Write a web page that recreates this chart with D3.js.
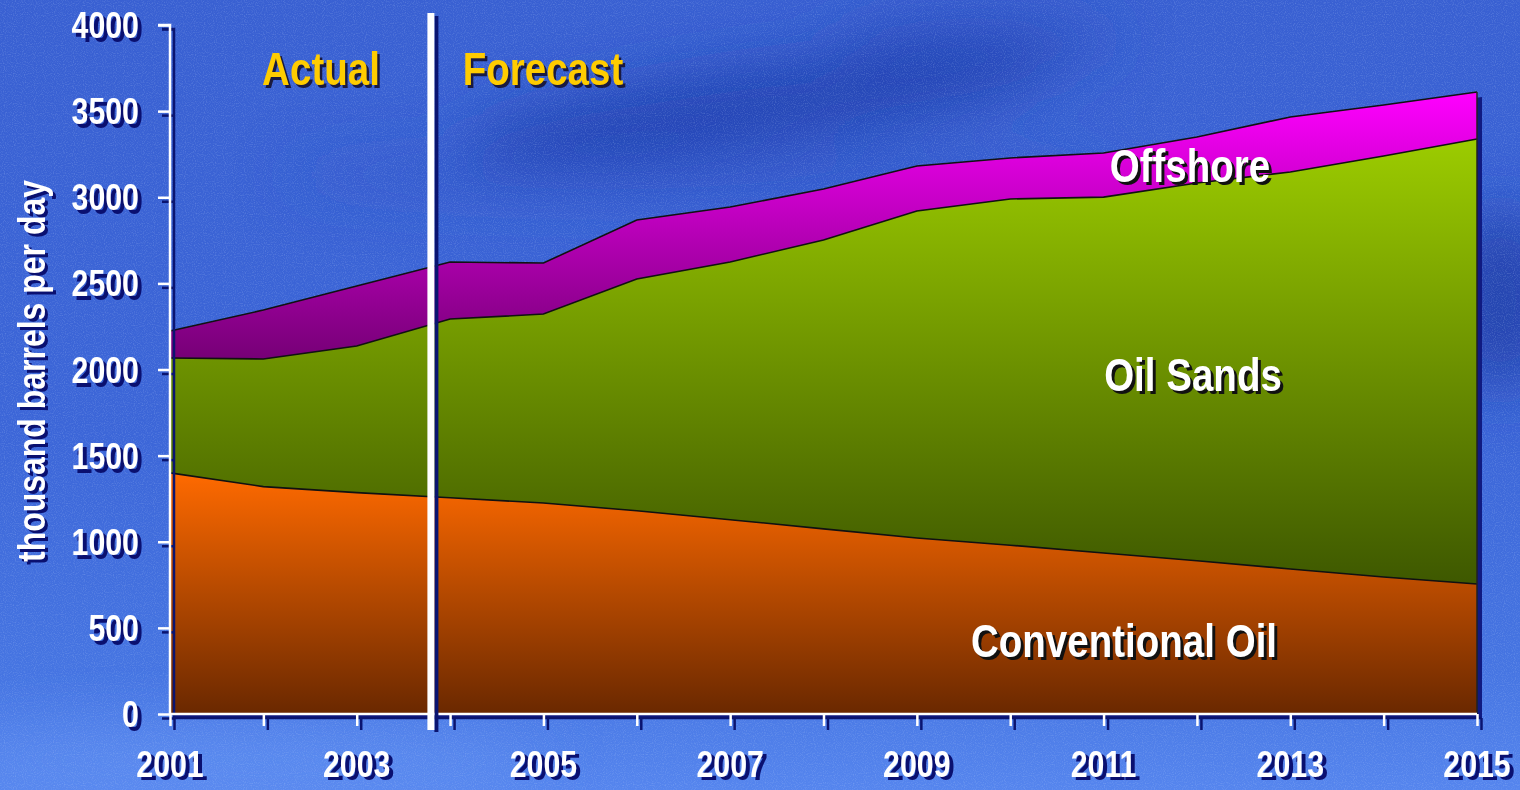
<!DOCTYPE html>
<html>
<head>
<meta charset="utf-8">
<script src="https://cdn.jsdelivr.net/npm/d3@7/dist/d3.min.js"></script>
<style>
html,body{margin:0;padding:0;background:#3a62d4;overflow:hidden;}
svg{display:block;}
text{font-family:"Liberation Sans",Arial,sans-serif;font-weight:bold;}
</style>
</head>
<body>
<svg id="chart" width="1520" height="790"></svg>
<script>
// ---- data ----
const years = [2001,2002,2003,2004,2005,2006,2007,2008,2009,2010,2011,2012,2013,2014,2015];
const conventionalOil = [1400,1320,1285,1255,1225,1180,1128,1075,1022,980,935,890,842,795,755];
const oilSands = [667,741,851,1038,1097,1345,1496,1677,1898,2010,2066,2193,2305,2444,2583];
const offshore = [156,284,349,331,296,343,319,296,261,238,256,267,319,297,273];
const seriesNames = ["Conventional Oil","Oil Sands","Offshore"];
const yTicks = [0,500,1000,1500,2000,2500,3000,3500,4000];
const xTickLabels = [2001,2003,2005,2007,2009,2011,2013,2015];
const dividerYear = 2003.8;
const periodLabels = ["Actual","Forecast"];
const yTitle = "thousand barrels per day";

// ---- setup ----
const W = 1520, H = 790;
const margin = {left:170, right:43, top:25, bottom:76};
const svg = d3.select("#chart");
const x = d3.scaleLinear().domain([2001,2015]).range([margin.left, W - margin.right]);
const y = d3.scaleLinear().domain([0,4000]).range([H - margin.bottom, margin.top]);
const NARROW = 0.82;

const defs = svg.append("defs");
const bg = defs.append("linearGradient").attr("id","bg").attr("x1",0).attr("y1",0).attr("x2",0).attr("y2",1);
bg.append("stop").attr("offset","0%").attr("stop-color","#3960d2");
bg.append("stop").attr("offset","55%").attr("stop-color","#3c66d8");
bg.append("stop").attr("offset","85%").attr("stop-color","#4675e2");
bg.append("stop").attr("offset","100%").attr("stop-color","#5585ee");
const blur = defs.append("filter").attr("id","blur").attr("x","-50%").attr("y","-50%").attr("width","200%").attr("height","200%");
blur.append("feGaussianBlur").attr("stdDeviation",30);
const noise = defs.append("filter").attr("id","noise");
noise.append("feTurbulence").attr("type","fractalNoise").attr("baseFrequency",0.9).attr("numOctaves",1).attr("seed",3);
noise.append("feColorMatrix").attr("type","matrix").attr("values","0 0 0 0 0.6  0 0 0 0 0.75  0 0 0 0 1  0 0 0 1.6 -0.75");

function grad(id, top, bottom){
  const g = defs.append("linearGradient").attr("id",id).attr("x1",0).attr("y1",0).attr("x2",0).attr("y2",1);
  g.append("stop").attr("offset","0%").attr("stop-color",top);
  g.append("stop").attr("offset","100%").attr("stop-color",bottom);
}
grad("gConv","#ff6a00","#6a2800");
grad("gSands","#9ccc00","#3e5800");
grad("gOff","#ff00ff","#760076");
const fills = ["url(#gConv)","url(#gSands)","url(#gOff)"];

// background
svg.append("rect").attr("width",W).attr("height",H).attr("fill","url(#bg)");
const streaks = svg.append("g").attr("filter","url(#blur)");
streaks.append("ellipse").attr("cx",760).attr("cy",105).attr("rx",300).attr("ry",38).attr("fill","#1e3aa8").attr("opacity",0.75).attr("transform","rotate(-8 760 105)");
streaks.append("ellipse").attr("cx",980).attr("cy",40).attr("rx",140).attr("ry",22).attr("fill","#2444b8").attr("opacity",0.6);
streaks.append("ellipse").attr("cx",1500).attr("cy",300).attr("rx",60).attr("ry",90).attr("fill","#1c36a0").attr("opacity",0.7);
streaks.append("ellipse").attr("cx",700).attr("cy",175).attr("rx",420).attr("ry",18).attr("fill","#2a4cc0").attr("opacity",0.5);
streaks.append("ellipse").attr("cx",250).attr("cy",760).attr("rx",300).attr("ry",30).attr("fill","#6a98f6").attr("opacity",0.5);
svg.append("rect").attr("width",W).attr("height",H).attr("filter","url(#noise)").attr("opacity",0.35);

// ---- stack ----
const table = years.map((yr,i)=>({year:yr, "Conventional Oil":conventionalOil[i], "Oil Sands":oilSands[i], "Offshore":offshore[i]}));
const stack = d3.stack().keys(seriesNames)(table);
const area = d3.area().x(d=>x(d.data.year)).y0(d=>y(d[0])).y1(d=>y(d[1]));
const topLine = d3.line().x(d=>x(d.data.year)).y(d=>y(d[1]));

const totalArea = d3.area().x(d=>x(d.data.year)).y0(y(0)).y1(d=>y(d[1]));
svg.append("path").datum(stack[2]).attr("d",totalArea).attr("fill","#101a80")
  .attr("transform","translate(5,5)");

svg.selectAll("path.layer").data(stack).join("path").attr("class","layer")
  .attr("d",area).attr("fill",(d,i)=>fills[i]);
svg.selectAll("path.edge").data(stack).join("path").attr("class","edge")
  .attr("d",topLine).attr("fill","none").attr("stroke","#111").attr("stroke-width",1.6);
svg.append("line").attr("x1",x(2015)).attr("x2",x(2015)).attr("y1",y(0)).attr("y2",y(stack[2][stack[2].length-1][1]))
  .attr("stroke","#222").attr("stroke-width",1.5);

// ---- axes ----
function drawAxes(g, color){
  const yAxis = d3.axisLeft(y).tickValues(yTicks).tickSize(12).tickFormat("");
  const xAxis = d3.axisBottom(x).tickValues(years).tickSize(12).tickFormat("");
  const ya = g.append("g").attr("transform",`translate(${margin.left},0)`).call(yAxis);
  const xa = g.append("g").attr("transform",`translate(0,${y(0)})`).call(xAxis);
  [ya,xa].forEach(a=>{
    a.select(".domain").attr("stroke",color).attr("stroke-width",2.5);
    a.selectAll(".tick line").attr("stroke",color).attr("stroke-width",2.5);
  });
  ya.select(".domain").attr("d",`M-12,${y(4000)}H0V${y(0)}`);
  xa.select(".domain").attr("d",`M${x(2001)},0H${x(2015)}`);
}
drawAxes(svg.append("g").attr("transform","translate(4,4)"), "#0a1470");
drawAxes(svg.append("g"), "#ffffff");

// ---- text helper (condensed bold with drop shadow) ----
function shadowText(txt, px, py, opts){
  const g = svg.append("g");
  const o = Object.assign({size:36, fill:"#fff", shadow:"#0a1070", dx:3, dy:3, anchor:"middle", rotate:0}, opts||{});
  [[o.dx,o.dy,o.shadow],[0,0,o.fill]].forEach(([ddx,ddy,col])=>{
    g.append("text").text(txt)
      .attr("x",0).attr("y",0)
      .attr("transform",`translate(${px+ddx},${py+ddy}) rotate(${o.rotate}) scale(${NARROW},1)`)
      .attr("text-anchor",o.anchor).attr("font-size",o.size).attr("fill",col);
  });
  return g;
}

yTicks.forEach(v=>shadowText(String(v), 139, y(v)+13, {size:37, anchor:"end", dx:4, dy:4}));
xTickLabels.forEach(v=>shadowText(String(v), x(v), y(0)+63, {size:37, anchor:"middle", dx:4, dy:3}));
shadowText(yTitle, 45, 371, {size:39, rotate:-90, dx:3, dy:3});

// divider
svg.append("rect").attr("x",x(dividerYear)+3).attr("y",16).attr("width",4).attr("height",716).attr("fill","#0a1470");
svg.append("rect").attr("x",x(dividerYear)-4).attr("y",13).attr("width",7).attr("height",717).attr("fill","#ffffff");

// period labels
shadowText(periodLabels[0], 321, 85, {size:47, fill:"#ffcc00", shadow:"#1a1a40", dx:2.5, dy:2.5});
shadowText(periodLabels[1], 543, 85, {size:47, fill:"#ffcc00", shadow:"#1a1a40", dx:2.5, dy:2.5});

// series labels
shadowText(seriesNames[2], 1190, 182, {size:47, shadow:"#111", dx:3, dy:3});
shadowText(seriesNames[1], 1193, 391, {size:47, shadow:"#111", dx:3, dy:3});
shadowText(seriesNames[0], 1124, 657, {size:47, shadow:"#111", dx:3, dy:3});
</script>
</body>
</html>
